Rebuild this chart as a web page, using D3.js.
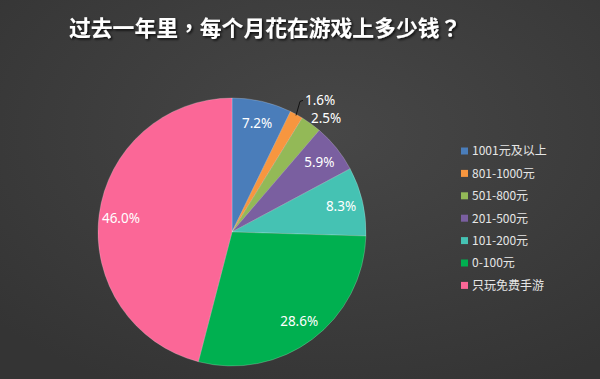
<!DOCTYPE html>
<html><head><meta charset="utf-8">
<script src="https://cdn.jsdelivr.net/npm/d3@7"></script>
<style>html,body{margin:0;padding:0;background:#3c3c3c;}svg{display:block;}</style>
</head><body>
<script>
const categories = ["1001元及以上","801-1000元","501-800元","201-500元","101-200元","0-100元","只玩免费手游"];
const values = [7.2, 1.6, 2.5, 5.9, 8.3, 28.6, 46.0];
const labels = ["7.2%","1.6%","2.5%","5.9%","8.3%","28.6%","46.0%"];
const colors = ["#4a7dba","#f7963f","#93b957","#7a5fa0","#45c2b3","#00b050","#fb6797"];
const title = "过去一年里，每个月花在游戏上多少钱？";

const W = 600, H = 379;
const svg = d3.select("body").append("svg").attr("width", W).attr("height", H);
const defs = svg.append("defs");
const grad = defs.append("radialGradient").attr("id","bg").attr("cx","55%").attr("cy","35%").attr("r","75%");
grad.append("stop").attr("offset","0%").attr("stop-color","#474747");
grad.append("stop").attr("offset","100%").attr("stop-color","#343434");
const sh = defs.append("filter").attr("id","sh").attr("x","-5%").attr("y","-20%").attr("width","110%").attr("height","150%");
sh.append("feDropShadow").attr("dx",1.5).attr("dy",1.5).attr("stdDeviation",1).attr("flood-color","#000").attr("flood-opacity",0.8);
svg.append("rect").attr("width",W).attr("height",H).attr("fill","url(#bg)");

svg.append("text").attr("x",69).attr("y",28).attr("dy","0.36em").attr("fill","#fff")
  .attr("font-family","'Noto Sans CJK TC'").attr("font-weight","bold").attr("font-size",21.8)
  .attr("filter","url(#sh)").text(title);

const cx = 232, cy = 232, R = 134;
const g = svg.append("g").attr("transform",`translate(${cx},${cy})`);
const pie = d3.pie().sort(null).value(d => d);
const arcs = pie(values);
const arc = d3.arc().innerRadius(0).outerRadius(R);
g.selectAll("path").data(arcs).enter().append("path")
  .attr("d", arc).attr("fill",(d,i)=>colors[i])
  .attr("stroke","rgba(255,255,255,0.35)").attr("stroke-width",0.6);

const lblArc = d3.arc().innerRadius(112).outerRadius(112);
const font = "'Noto Sans', 'Open Sans', sans-serif";
arcs.forEach((d,i) => {
  let x, y;
  if (i === 1) {
    const a = (d.startAngle + d.endAngle)/2;
    const p0 = [Math.sin(a)*(R-1), -Math.cos(a)*(R-1)];
    const p1 = [p0[0]+4, p0[1]-14];
    const p2 = [p1[0]+3, p1[1]-1];
    g.append("polyline").attr("points",[p0,p1,p2].map(p=>p.join(",")).join(" "))
      .attr("fill","none").attr("stroke","#111").attr("stroke-width",1);
    g.append("text").attr("x",p2[0]+2).attr("y",p2[1]).attr("dy","0.35em")
      .attr("fill","#fff").attr("font-family",font).attr("font-size",13.5).text(labels[i]);
    return;
  }
  if (i === 2) {
    const a = d.endAngle - 0.02;
    x = Math.sin(a)*148; y = -Math.cos(a)*148;
  } else {
    [x, y] = lblArc.centroid(d);
  }
  g.append("text").attr("x",x).attr("y",y).attr("dy","0.35em").attr("text-anchor","middle")
    .attr("fill","#fff").attr("font-family",font).attr("font-size",13.5).text(labels[i]);
});

const lg = svg.append("g").attr("transform","translate(461,151)");
const rowH = 22.4;
categories.forEach((c,i) => {
  const row = lg.append("g").attr("transform",`translate(0,${i*rowH})`);
  row.append("rect").attr("x",0).attr("y",-3.5).attr("width",7).attr("height",7).attr("fill",colors[i]);
  row.append("text").attr("x",11).attr("y",0).attr("dy","0.36em").attr("fill","#e6e6e6")
    .attr("font-family","'Noto Sans CJK SC'").attr("font-size",12).text(c);
});
</script>
</body></html>
